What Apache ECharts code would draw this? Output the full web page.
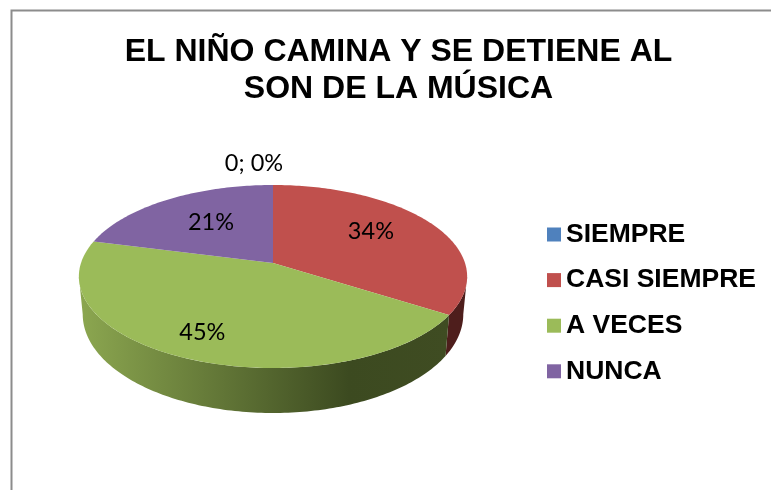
<!DOCTYPE html>
<html>
<head>
<meta charset="utf-8">
<style>
  html, body { margin: 0; padding: 0; background: #fff; }
  #main { width: 771px; height: 490px; }
</style>
<script src="https://cdn.jsdelivr.net/npm/echarts@6/dist/echarts.min.js"></script>
</head>
<body>
<div id="main"></div>
<script>
const titleText = "EL NIÑO CAMINA Y SE DETIENE AL\nSON DE LA MÚSICA";
const categories = ["SIEMPRE", "CASI SIEMPRE", "A VECES", "NUNCA"];
const values = [0, 34, 45, 21];
const labels = ["0; 0%", "34%", "45%", "21%"];
const colors = ["#4f81bd", "#c0504d", "#9bbb59", "#8064a2"];
// side wall colours, gradient runs left to right
const wallColors = [
  "#4f81bd",
  "#4e1e1c",
  { type: "linear", x: 0, y: 0, x2: 1, y2: 0, colorStops: [
    { offset: 0, color: "#8ca750" },
    { offset: 0.73, color: "#3c4a20" },
    { offset: 1, color: "#3f4c22" },
  ] },
  "#4d3c61",
];

// the tilted disc: perspective projection of a circle
const disc = { cx: 273, cy: 263, rx: 192, ry: 89.5, k: 0.1475 };
const base = { drop: 36.8, rx: 188.2, ry: 96.5, k: 0.1475 };
const labelRadius = [1, 0.62, 0.75, 0.6];
const labelNudge = [[-19, -22], [-2, -6], [-7, 1], [4, -1]];

var myChart = echarts.init(document.getElementById("main"));

const total = values.reduce((a, b) => a + b, 0);
const startAngles = [];
let acc = 0;
for (let i = 0; i < values.length; ++i) {
  startAngles.push((acc / total) * 360);
  acc += values[i];
}

function project(deg, r, plane, drop) {
  const t = (deg * Math.PI) / 180;
  const u = Math.sin(t) * r;
  const v = -Math.cos(t) * r;
  const w = 1 - plane.k * v;
  return [disc.cx + (plane.rx * u) / w, disc.cy + drop + (plane.ry * v) / w];
}

function arc(from, to, plane, drop) {
  const pts = [];
  const n = Math.max(1, Math.ceil(to - from));
  for (let i = 0; i <= n; ++i) {
    pts.push(project(from + ((to - from) * i) / n, 1, plane, drop));
  }
  return pts;
}

// rim faces the viewer between the two tangent angles
const frontFrom = (Math.acos(-disc.k) * 180) / Math.PI;
const frontTo = 360 - frontFrom;

const series = categories.map((name, sid) => {
  return {
    name,
    type: "custom",
    coordinateSystem: "none",
    itemStyle: { color: colors[sid] },
    data: [[values[sid]]],
    renderItem: (params, api) => {
      const sweep = (api.value(0) / total) * 360;
      const from = startAngles[sid];
      const to = from + sweep;
      const children = [];
      const a = Math.max(from, frontFrom);
      const b = Math.min(to, frontTo);
      if (b > a) {
        children.push({
          type: "polygon",
          shape: { points: arc(a, b, disc, 0).concat(arc(a, b, base, base.drop).reverse()) },
          style: { fill: wallColors[sid] },
        });
      }
      if (sweep > 0) {
        children.push({
          type: "polygon",
          shape: { points: [[disc.cx, disc.cy]].concat(arc(from, to, disc, 0)) },
          style: { fill: colors[sid] },
        });
      }
      const p = project(from + sweep / 2, labelRadius[sid], disc, 0);
      children.push({
        type: "text",
        z2: 10,
        style: {
          x: p[0] + labelNudge[sid][0],
          y: p[1] + labelNudge[sid][1],
          text: labels[sid],
          fill: "#000",
          font: '23.5px Lato, "Noto Sans", sans-serif',
          align: "center",
          verticalAlign: "middle",
        },
      });
      return { type: "group", children };
    },
  };
});

myChart.setOption({
  animation: false,
  backgroundColor: "#fff",
  title: {
    text: titleText,
    left: 393.5,
    top: 29,
    textAlign: "center",
    textStyle: {
      color: "#000",
      fontFamily: '"Liberation Sans", Arial, sans-serif',
      fontWeight: "bold",
      fontSize: 32,
      lineHeight: 37,
    },
  },
  legend: {
    data: categories,
    orient: "vertical",
    left: 542,
    top: 215,
    icon: "rect",
    itemWidth: 14,
    itemHeight: 14,
    itemGap: 16.6,
    selectedMode: false,
    textStyle: {
      color: "#000",
      fontFamily: '"Liberation Sans", Arial, sans-serif',
      fontWeight: "bold",
      fontSize: 26.5,
      lineHeight: 29,
    },
  },
  graphic: {
    elements: [
      {
        type: "rect",
        silent: true,
        z: -1,
        shape: { x: 11.5, y: 10.5, width: 900, height: 700 },
        style: { fill: "none", stroke: "#8c8c8c", lineWidth: 2 },
      },
    ],
  },
  series,
});
</script>
</body>
</html>
